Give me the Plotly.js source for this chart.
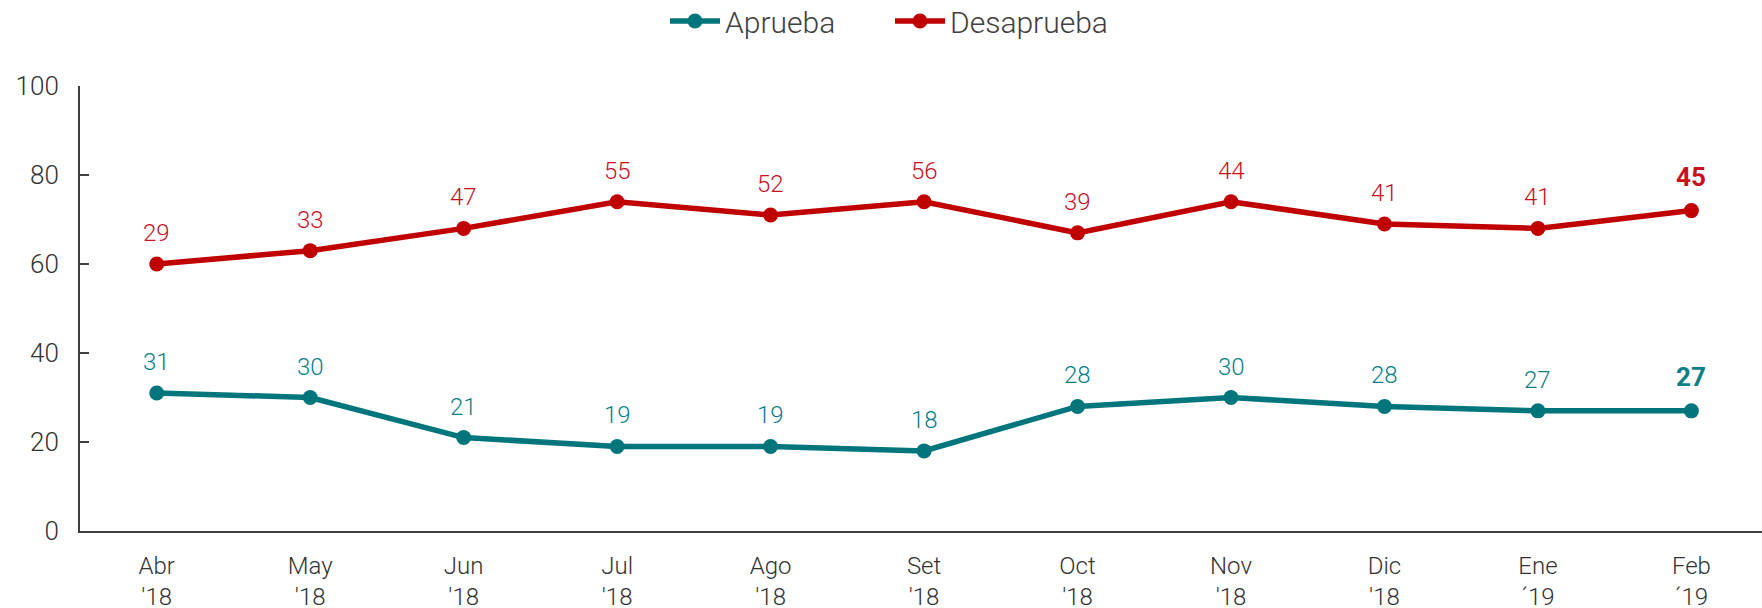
<!DOCTYPE html>
<html>
<head>
<meta charset="utf-8">
<script src="https://cdn.plot.ly/plotly-3.0.1.min.js"></script>
<style>html,body{margin:0;padding:0;background:#fff;}#chart{width:1762px;height:608px;}</style>
</head>
<body>
<div id="chart"></div>
<script>
const months = ["Abr<br>'18","May<br>'18","Jun<br>'18","Jul<br>'18","Ago<br>'18","Set<br>'18","Oct<br>'18","Nov<br>'18","Dic<br>'18","Ene<br>´19","Feb<br>´19"];
const aprueba = [31, 30, 21, 19, 19, 18, 28, 30, 28, 27, 27];
const desaprueba = [29, 33, 47, 55, 52, 56, 39, 44, 41, 41, 45];
const yTicks = [0, 20, 40, 60, 80, 100];

const teal = "#00767C";
const tealText = "#0A7F86";
const red = "#C00000";
const redText = "#C8101E";
const FONT = "Roboto, 'Liberation Sans', Arial, sans-serif";

const idx = months.map((_, i) => i);

const traces = [
  {name: "Aprueba", x: idx, y: aprueba, type: "scatter", mode: "lines+markers",
   stackgroup: "one", fill: "none",
   line: {color: teal, width: 5.5}, marker: {color: teal, size: 15}},
  {name: "Desaprueba", x: idx, y: desaprueba, type: "scatter", mode: "lines+markers",
   stackgroup: "one", fill: "none",
   line: {color: red, width: 5.5}, marker: {color: red, size: 15}}
];

const annotations = [];
const last = months.length - 1;
idx.forEach(i => {
  const bold = i === last;
  annotations.push({x: i, y: aprueba[i], text: String(aprueba[i]), showarrow: false,
    xref: "x", yref: "y", yanchor: "middle", yshift: bold ? 34 : 31,
    font: {family: FONT, size: bold ? 26 : 24, color: tealText, weight: bold ? 700 : 300}});
  annotations.push({x: i, y: aprueba[i] + desaprueba[i], text: String(desaprueba[i]), showarrow: false,
    xref: "x", yref: "y", yanchor: "middle", yshift: bold ? 34 : 31,
    font: {family: FONT, size: bold ? 26 : 24, color: redText, weight: bold ? 700 : 300}});
});

const layout = {
  width: 1762, height: 608,
  margin: {l: 80, r: 0, t: 86, b: 77},
  paper_bgcolor: "#fff", plot_bgcolor: "#fff",
  font: {family: FONT, size: 24, color: "#333", weight: 300},
  showlegend: true,
  legend: {orientation: "h", x: 665 / 1762, xref: "container", xanchor: "left",
    y: 1 - 21 / 608, yref: "container", yanchor: "middle", traceorder: "normal",
    font: {family: FONT, size: 30, color: "#404040", weight: 300},
    itemwidth: 50, entrywidth: 160, entrywidthmode: "pixels"},
  xaxis: {type: "linear", range: [-0.5, 10.46], tickmode: "array", tickvals: idx, ticktext: months,
    showgrid: false, zeroline: false, showline: true, linecolor: "#404040", linewidth: 2,
    ticks: "", ticklabelstandoff: 12,
    tickfont: {family: FONT, size: 24, color: "#333", weight: 300}},
  yaxis: {range: [0, 100], tickmode: "array", tickvals: yTicks,
    showgrid: false, zeroline: false, showline: true, linecolor: "#404040", linewidth: 2,
    ticks: "inside", ticklen: 9, tickwidth: 2, tickcolor: "#404040", ticklabelstandoff: 14,
    tickfont: {family: FONT, size: 26, color: "#333", weight: 300}},
  annotations: annotations
};

Plotly.newPlot("chart", traces, layout, {displayModeBar: false, responsive: false});
</script>
</body>
</html>
